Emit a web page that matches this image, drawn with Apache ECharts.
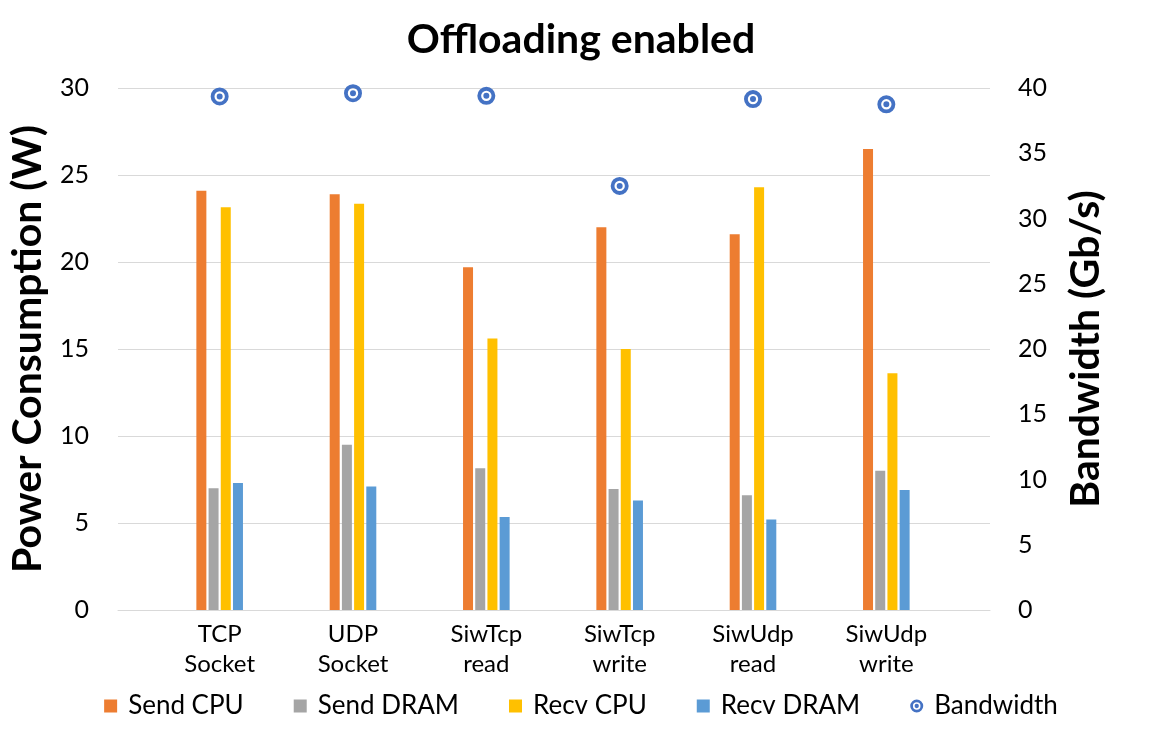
<!DOCTYPE html>
<html>
<head>
<meta charset="utf-8">
<script src="https://cdn.jsdelivr.net/npm/echarts@6/dist/echarts.min.js"></script>
<style>
  html, body { margin: 0; padding: 0; background: #fff; }
  #chart { width: 1162px; height: 739px; }
</style>
</head>
<body>
<div id="chart"></div>
<script>
var categories = ['TCP\nSocket', 'UDP\nSocket', 'SiwTcp\nread', 'SiwTcp\nwrite', 'SiwUdp\nread', 'SiwUdp\nwrite'];
var sendCpu   = [24.1, 23.9, 19.7, 22.0, 21.6, 26.5];
var sendDram  = [7.0, 9.5, 8.15, 6.95, 6.6, 8.0];
var recvCpu   = [23.15, 23.35, 15.6, 15.0, 24.3, 13.6];
var recvDram  = [7.3, 7.1, 5.35, 6.3, 5.2, 6.9];
var bandwidth = [39.35, 39.6, 39.4, 32.5, 39.15, 38.75];

// ring with a dot in the middle, like the Excel circle marker
var ringPath = 'path://M0,-9a9,9 0 1,0 0,18a9,9 0 1,0 0,-18z' +
	'M0,-5.2a5.2,5.2 0 1,1 0,10.4a5.2,5.2 0 1,1 0,-10.4z' +
	'M0,-3a3,3 0 1,0 0,6a3,3 0 1,0 0,-6z';

var font = 'Lato, "Liberation Sans", sans-serif';
var gridColor = '#d9d9d9';

var chart = echarts.init(document.getElementById('chart'));

var options =
{
	backgroundColor: '#fff',
	animation: false,
	textStyle: { fontFamily: font, color: '#000' },
	title:
	{
		text: 'Offloading enabled',
		left: 'center',
		top: 14,
		textStyle: { fontFamily: font, fontSize: 41, fontWeight: 'bold', color: '#000' }
	},
	legend:
	{
		bottom: 15,
		left: 'center',
		itemWidth: 13,
		itemHeight: 13,
		itemGap: 50,
		textStyle: { fontFamily: font, fontSize: 26, color: '#000', padding: [0, 0, 0, 6] },
		data:
		[
			{ name: 'Send CPU', icon: 'rect' },
			{ name: 'Send DRAM', icon: 'rect' },
			{ name: 'Recv CPU', icon: 'rect' },
			{ name: 'Recv DRAM', icon: 'rect' },
			{ name: 'Bandwidth', icon: ringPath, itemStyle: { color: '#4472c4' } }
		]
	},
	grid:
	[
		{ left: 118, right: 172, top: 88, bottom: 129, outerBoundsMode: 'none' },
		{ left: 153, right: 209, top: 88, bottom: 129, outerBoundsMode: 'none' }
	],
	xAxis:
	[
		{
			gridIndex: 0,
			type: 'category',
			data: [''],
			axisLine: { show: true, lineStyle: { color: gridColor, width: 1 } },
			axisTick: { show: false },
			axisLabel: { show: false }
		},
		{
			gridIndex: 1,
			type: 'category',
			data: categories,
			axisLine: { show: false },
			axisTick: { show: false },
			axisLabel: { fontFamily: font, fontSize: 24, color: '#000', margin: 9, lineHeight: 30 }
		}
	],
	yAxis:
	[
		{
			gridIndex: 0,
			type: 'value',
			min: 0,
			max: 30,
			interval: 5,
			name: 'Power Consumption (W)',
			nameLocation: 'middle',
			nameRotate: 90,
			nameGap: 70,
			nameTextStyle: { fontFamily: font, fontSize: 41, fontWeight: 'bold', color: '#000' },
			axisLine: { show: false },
			axisTick: { show: false },
			axisLabel: { fontFamily: font, fontSize: 25, color: '#000', margin: 29 },
			splitLine: { lineStyle: { color: gridColor, width: 1 } }
		},
		{
			gridIndex: 0,
			type: 'value',
			position: 'right',
			min: 0,
			max: 40,
			interval: 5,
			name: 'Bandwidth (Gb/s)',
			nameLocation: 'middle',
			nameRotate: 90,
			nameGap: 75,
			nameTextStyle: { fontFamily: font, fontSize: 41, fontWeight: 'bold', color: '#000' },
			axisLine: { show: false },
			axisTick: { show: false },
			axisLabel: { fontFamily: font, fontSize: 25, color: '#000', margin: 28 },
			splitLine: { show: false }
		},
		{ gridIndex: 1, type: 'value', min: 0, max: 30, show: false },
		{ gridIndex: 1, type: 'value', min: 0, max: 40, show: false }
	],
	series:
	[
		{ name: 'Send CPU', type: 'bar', xAxisIndex: 1, yAxisIndex: 2, data: sendCpu, barWidth: 10, barGap: '22%', itemStyle: { color: '#ed7d31' } },
		{ name: 'Send DRAM', type: 'bar', xAxisIndex: 1, yAxisIndex: 2, data: sendDram, barWidth: 10, barGap: '22%', itemStyle: { color: '#a5a5a5' } },
		{ name: 'Recv CPU', type: 'bar', xAxisIndex: 1, yAxisIndex: 2, data: recvCpu, barWidth: 10, barGap: '22%', itemStyle: { color: '#ffc000' } },
		{ name: 'Recv DRAM', type: 'bar', xAxisIndex: 1, yAxisIndex: 2, data: recvDram, barWidth: 10, barGap: '22%', itemStyle: { color: '#5b9bd5' } },
		{
			name: 'Bandwidth',
			type: 'scatter',
			xAxisIndex: 1,
			yAxisIndex: 3,
			data: bandwidth,
			symbol: ringPath,
			symbolSize: 18,
			itemStyle: { color: '#4472c4', opacity: 1 }
		}
	]
};

chart.setOption(options);
</script>
</body>
</html>
